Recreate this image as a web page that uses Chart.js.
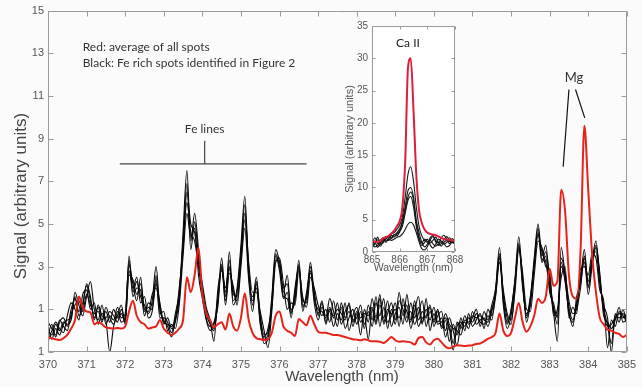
<!DOCTYPE html>
<html><head><meta charset="utf-8">
<script src="https://cdn.jsdelivr.net/npm/chart.js@4.4.0/dist/chart.umd.min.js"></script>
<style>
html,body{margin:0;padding:0;background:#fbfbfb;}
#wrap{position:relative;width:642px;height:387px;overflow:hidden;background:#fbfbfb;}
#main{position:absolute;left:0;top:0;}
#inset{position:absolute;left:340px;top:10px;}
</style></head><body>
<div id="wrap"><canvas id="main" width="642" height="387"></canvas><canvas id="inset" width="130" height="275"></canvas></div>
<script>
// ---------------- DATA (main plot) ----------------
const wavelengths = [
370.0,370.1,370.2,370.3,370.4,370.5,370.6,370.7,370.8,370.9,
371.0,371.1,371.2,371.3,371.4,371.5,371.6,371.7,371.8,371.9,
372.0,372.1,372.2,372.3,372.4,372.5,372.6,372.7,372.8,372.9,
373.0,373.1,373.2,373.3,373.4,373.5,373.6,373.7,373.8,373.9,
374.0,374.1,374.2,374.3,374.4,374.5,374.6,374.7,374.8,374.9,
375.0,375.1,375.2,375.3,375.4,375.5,375.6,375.7,375.8,375.9,
376.0,376.1,376.2,376.3,376.4,376.5,376.6,376.7,376.8,376.9,
377.0,377.1,377.2,377.3,377.4,377.5,377.6,377.7,377.8,377.9,
378.0,378.1,378.2,378.3,378.4,378.5,378.6,378.7,378.8,378.9,
379.0,379.1,379.2,379.3,379.4,379.5,379.6,379.7,379.8,379.9,
380.0,380.1,380.2,380.3,380.4,380.5,380.6,380.7,380.8,380.9,
381.0,381.1,381.2,381.3,381.4,381.5,381.6,381.7,381.8,381.9,
382.0,382.1,382.2,382.3,382.4,382.5,382.6,382.7,382.8,382.9,
383.0,383.1,383.2,383.3,383.4,383.5,383.6,383.7,383.8,383.9,
384.0,384.1,384.2,384.3,384.4,384.5,384.6,384.7,384.8,384.9,
385.0];

const redAverage = [
-0.3,-0.36,-0.4,-0.44,-0.35,-0.2,0.1,0.5,1.6,1.1,
0.9,0.85,0.3,0.4,0.3,0.15,0.12,0.1,0.12,0.1,
0.2,0.9,1.4,0.7,0.4,0.3,0.1,0.15,0.2,0.5,
0.1,-0.1,-0.2,-0.1,0.1,0.5,2.5,1.8,2.6,3.9,
1.7,0.8,0.5,0.15,0.3,0.4,0.05,0.8,0.2,0.0,
0.6,1.75,0.5,-0.1,-0.35,-0.4,-0.44,-0.4,-0.1,0.7,
0.9,0.2,0.0,-0.1,-0.25,0.55,0.4,0.25,0.7,0.3,
-0.05,-0.1,-0.1,-0.15,-0.2,-0.2,-0.25,-0.3,-0.35,-0.4,
-0.42,-0.45,-0.4,-0.45,-0.5,-0.5,-0.52,-0.58,-0.45,-0.3,
-0.45,-0.52,-0.5,-0.52,-0.55,-0.65,-0.35,-0.3,-0.55,-0.65,
-0.45,-0.38,-0.55,-0.75,-0.83,-0.75,-0.68,-0.7,-0.72,-0.7,
-0.68,-0.62,-0.6,-0.5,-0.38,-0.3,-0.1,0.8,0.0,-0.25,
-0.1,0.6,1.3,0.4,-0.05,0.2,0.7,1.5,1.3,1.6,
2.9,2.1,2.3,6.6,5.6,2.6,1.6,1.5,3.7,9.6,
6.6,3.6,1.8,0.6,0.3,0.05,0.0,-0.1,-0.15,-0.3,
-0.2];

const feSpot1 = [
-0.2,0.3,-0.3,0.4,0.6,0.2,1.0,1.5,0.9,1.3,
2.1,1.4,0.6,1.1,0.5,0.9,0.4,1.0,0.6,0.8,
0.4,3.5,1.8,2.3,1.6,1.2,0.8,1.4,3.0,1.0,
0.5,0.2,-0.3,0.6,1.6,4.6,7.5,4.2,5.5,3.8,
1.8,0.8,0.3,0.0,1.4,3.4,1.6,3.7,1.4,2.0,
4.0,6.3,2.8,1.4,2.5,0.6,-0.4,-0.2,1.6,3.8,
3.2,1.8,2.6,0.9,1.6,3.3,1.2,1.5,3.2,1.7,
0.8,1.4,0.4,1.1,0.6,1.3,0.3,0.9,1.2,0.2,
0.8,-0.2,1.0,0.4,1.5,0.6,1.7,0.3,0.8,1.3,
0.5,1.8,0.7,1.2,0.1,0.9,1.6,0.4,1.0,0.5,
1.1,0.4,0.6,-0.3,0.2,-0.6,0.4,0.1,0.7,0.3,
0.6,1.0,0.2,0.9,0.5,1.2,2.0,3.9,1.5,0.4,
0.9,2.4,4.4,2.3,0.6,1.5,3.4,5.0,3.5,4.0,
2.2,1.1,0.3,3.9,2.6,1.1,0.5,1.3,2.4,3.8,
2.0,3.3,4.2,2.4,1.0,0.3,-0.6,0.8,0.4,1.0,
0.3];

const feSpot2 = [
0.2,-0.4,0.1,-0.2,0.3,0.5,0.6,1.8,1.2,0.7,
1.6,2.3,1.0,0.5,1.2,0.3,0.7,0.5,1.1,0.6,
0.8,3.1,2.2,1.4,2.5,0.9,1.1,1.0,2.2,1.3,
0.3,0.6,0.1,0.4,2.0,3.8,6.5,5.0,4.6,3.2,
2.2,1.1,0.5,-0.5,1.9,2.8,2.0,3.0,1.7,1.6,
3.5,5.5,3.2,1.8,1.8,0.9,0.0,-0.8,0.9,3.2,
3.4,2.2,1.0,1.3,1.2,2.8,1.6,1.1,2.5,2.0,
1.2,0.7,1.0,0.4,1.4,0.5,1.1,0.1,0.6,1.0,
0.3,0.9,0.1,1.2,0.5,1.6,0.2,1.1,0.4,0.7,
1.3,0.2,1.5,0.6,0.9,0.3,0.8,1.4,0.2,0.9,
0.5,1.0,0.1,0.5,-0.5,0.3,-0.2,0.6,0.0,0.8,
0.2,0.5,0.8,0.1,1.0,0.7,1.6,3.2,1.9,0.8,
0.5,1.8,3.8,2.7,1.0,0.9,2.6,4.2,3.9,3.0,
2.8,0.7,1.0,2.5,3.0,0.6,1.1,0.8,2.9,3.0,
2.6,3.6,3.4,1.9,1.4,-0.8,0.5,0.2,0.9,0.6,
0.8];

const feSpot3 = [
-0.5,0.0,0.4,0.1,-0.1,0.7,1.3,1.0,0.5,1.7,
1.9,1.0,1.3,0.3,0.8,0.5,-1.0,0.2,0.7,1.2,
0.3,2.8,2.0,2.5,1.3,1.6,0.6,0.9,2.6,0.8,
0.9,0.0,0.3,0.1,1.2,3.5,5.5,4.4,4.8,2.6,
1.5,0.5,0.0,0.4,1.1,3.1,1.2,2.7,2.1,1.2,
3.0,4.8,2.4,0.9,2.2,0.3,-0.3,0.1,1.2,3.5,
2.8,1.5,1.8,0.6,2.0,3.0,0.9,1.8,2.8,1.3,
0.5,1.1,0.7,0.9,0.2,0.8,0.5,1.3,0.0,0.7,
1.1,0.4,0.7,-0.4,1.0,0.3,1.2,0.6,1.4,0.2,
0.8,1.1,0.3,1.7,0.5,1.2,0.2,0.6,0.7,1.2,
0.2,0.7,0.9,0.0,0.6,0.0,-0.7,0.3,0.4,0.1,
0.9,0.3,0.5,0.6,0.2,0.9,1.8,3.5,1.2,0.1,
0.7,2.2,4.1,2.0,0.8,1.2,3.0,4.6,3.2,3.5,
1.8,1.3,0.6,3.2,2.3,0.9,0.2,1.6,2.2,3.4,
1.7,3.0,3.9,2.7,0.7,0.4,0.1,0.5,1.1,0.4,
0.5];

const feSpot4 = [
0.4,0.1,-0.2,0.5,0.2,0.0,0.8,1.2,1.4,0.9,
1.7,1.2,0.8,0.9,0.4,1.1,0.6,0.3,0.9,0.4,
0.6,3.3,1.6,2.0,1.9,0.7,1.3,1.2,2.4,0.6,
0.6,0.4,-0.1,0.8,1.8,4.2,6.9,3.8,5.1,3.5,
2.0,0.6,0.2,0.3,1.6,2.9,1.8,3.3,1.2,1.8,
3.7,5.9,2.6,1.6,2.0,0.4,-0.6,-0.4,1.4,3.6,
3.0,2.0,2.2,1.0,1.4,3.1,1.4,1.3,3.0,1.5,
1.0,0.9,0.6,1.5,0.9,0.2,1.3,0.6,0.9,0.5,
0.6,1.2,0.3,0.9,0.2,1.3,0.7,1.5,0.1,1.0,
0.3,1.4,1.0,0.4,1.3,0.6,1.1,0.3,1.5,0.0,
0.8,0.3,0.4,0.6,0.1,-0.9,0.2,0.4,0.2,0.6,
0.4,0.8,0.4,0.3,0.7,0.5,1.9,3.6,1.7,0.6,
0.3,2.0,4.0,2.5,0.4,1.3,3.2,4.8,3.3,3.7,
2.5,0.9,-0.5,3.4,2.7,1.4,0.8,1.0,2.0,3.5,
2.3,3.4,3.7,2.2,1.2,0.6,-1.0,0.7,0.6,0.8,
0.6];

const feSpot5 = [
0.0,-0.2,0.3,0.0,0.4,0.3,0.5,1.6,0.7,1.1,
2.2,1.6,0.5,1.2,0.7,0.6,0.9,0.7,0.4,1.0,
0.5,2.6,2.4,1.7,2.2,1.0,0.9,1.7,2.0,1.2,
0.4,0.3,0.2,0.5,1.4,4.0,6.0,4.6,4.2,3.0,
1.7,0.9,0.4,0.1,1.3,3.0,1.4,2.9,1.9,1.4,
3.3,5.2,3.0,1.2,2.3,0.7,-0.2,-0.1,1.1,3.3,
3.3,1.6,1.5,0.8,1.8,2.9,1.1,1.6,2.7,1.8,
0.7,1.3,0.3,1.0,0.7,1.0,0.8,0.5,1.3,0.4,
0.9,0.6,0.8,0.7,1.1,0.4,1.5,0.4,1.0,0.8,
1.0,0.6,1.2,0.9,0.4,1.4,0.5,0.9,0.6,1.1,
0.4,0.9,0.2,0.8,0.3,0.1,0.0,-0.2,0.5,0.4,
0.7,0.6,0.7,0.5,0.4,1.0,1.7,3.4,1.4,0.3,
1.0,2.3,3.9,2.2,0.7,1.6,3.1,4.5,3.7,3.2,
2.0,1.0,0.7,3.0,2.4,0.8,0.4,1.2,2.6,3.2,
2.1,3.2,4.0,2.5,0.9,0.2,0.3,0.6,0.8,0.7,
0.4];

const mainYTicks = [-1,1,3,5,7,9,11,13,15];
const mainXTicks = [370,371,372,373,374,375,376,377,378,379,380,381,382,383,384,385];

// ---------------- DATA (inset, Ca II) ----------------
const insetWavelengths = [
865.0,865.1,865.2,865.3,865.4,865.5,865.6,865.7,865.8,865.9,
866.0,866.1,866.2,866.3,866.4,866.5,866.6,866.7,866.8,866.9,
867.0,867.1,867.2,867.3,867.4,867.5,867.6,867.7,867.8,867.9,
868.0];
const insetRed = [1.8,1.6,1.5,1.7,2.1,2.3,2.5,2.9,3.3,4.0,
4.8,7.0,14.0,28.5,30.0,22.0,12.0,6.5,4.5,3.5,
3.0,2.8,2.7,2.6,2.4,2.2,2.0,1.9,1.9,1.8,1.8];
const insetK1 = [2.0,1.2,2.3,1.5,1.8,2.4,2.2,2.8,3.0,3.5,4.2,5.5,8.5,12.0,13.2,11.0,7.0,4.0,2.5,1.8,1.5,1.9,2.4,1.8,1.4,2.2,2.6,2.0,1.6,2.1,1.7];
const insetK2 = [1.0,2.2,1.4,0.9,1.6,2.0,2.4,2.1,2.6,3.0,3.6,4.8,7.0,9.5,10.0,8.5,5.0,3.0,1.5,0.8,1.2,2.2,2.6,1.6,1.0,1.3,1.9,2.4,1.8,1.4,2.0];
const insetK3 = [1.6,0.8,1.0,1.8,2.2,1.7,2.0,2.6,2.3,2.8,3.3,4.5,6.5,8.5,9.3,8.0,4.5,2.3,1.0,1.5,2.0,1.1,0.6,1.2,2.0,1.7,1.2,1.5,2.2,1.6,1.3];
const insetK4 = [0.6,1.3,1.9,1.2,1.4,2.2,1.8,2.2,2.7,2.5,3.1,4.0,6.0,8.0,8.6,7.0,4.0,2.0,1.4,2.0,1.6,1.4,1.8,2.3,1.5,0.9,1.5,1.8,1.3,1.9,1.5];
const insetK5 = [1.3,1.7,0.7,1.3,2.0,1.5,2.0,1.8,2.0,2.3,2.4,2.8,3.5,4.3,4.6,4.2,3.0,1.6,0.5,0.3,0.8,1.8,1.3,0.9,1.2,1.6,1.3,0.8,1.0,1.5,1.2];
const insetYTicks = [0,5,10,15,20,25,30,35];
const insetXTicks = [865,866,867,868];

// ---------------- helpers ----------------
function pts(xs, ys){ return xs.map((x,i)=>({x:x, y:ys[i]})); }
const BLACK = '#0a0a0a';
const RED_MAIN = '#e5231b';
const RED_INSET = '#dc1f3c';
const AXIS = '#9a9a9a';
const TXT = '#555';
const SANS = '"Liberation Sans", Arial, sans-serif';
const HUM = 'Lato, "Open Sans", sans-serif';

function blackSet(ys, xs){ return {data: pts(xs, ys), borderColor: BLACK, borderWidth: 1.1, pointRadius: 0, cubicInterpolationMode:'monotone', order: 2}; }

function boxPlugin(xTicks, yTicks, tickLen){
  return {
    id: 'boxTicks',
    afterDatasetsDraw(chart){
      const {ctx, chartArea:a, scales} = chart;
      const x = scales.x, y = scales.y;
      ctx.save();
      ctx.strokeStyle = AXIS; ctx.lineWidth = 1;
      const L = Math.round(a.left)+0.5, R = Math.round(a.right)-0.5, T = Math.round(a.top)+0.5, B = Math.round(a.bottom)-0.5;
      ctx.beginPath();
      ctx.moveTo(L,T); ctx.lineTo(R,T); ctx.lineTo(R,B); ctx.lineTo(L,B); ctx.closePath();
      xTicks.forEach(v=>{ const px = Math.round(x.getPixelForValue(v))+0.5; ctx.moveTo(px,B); ctx.lineTo(px,B-tickLen); ctx.moveTo(px,T); ctx.lineTo(px,T+tickLen); });
      yTicks.forEach(v=>{ const py = Math.round(y.getPixelForValue(v))+0.5; ctx.moveTo(L,py); ctx.lineTo(L+tickLen,py); ctx.moveTo(R,py); ctx.lineTo(R-tickLen,py); });
      ctx.stroke();
      ctx.restore();
    }
  };
}

// ---------------- main chart ----------------
const mainAnno = {
  id: 'mainAnno',
  afterDatasetsDraw(chart){
    const {ctx, scales:{x,y}} = chart;
    const X = v=>x.getPixelForValue(v), Y = v=>y.getPixelForValue(v);
    ctx.save();
    ctx.fillStyle = '#333'; ctx.textBaseline = 'middle';
    ctx.font = '12px ' + HUM; ctx.textAlign = 'left';
    ctx.fillText('Red: average of all spots', X(370.9), Y(13.3));
    ctx.fillText('Black: Fe rich spots identified in Figure 2', X(370.9), Y(12.55));
    ctx.font = '12px ' + HUM; ctx.textAlign = 'center';
    ctx.fillText('Fe lines', X(374.06), Y(9.45));
    ctx.font = '13px ' + HUM;
    ctx.fillText('Mg', X(383.63), Y(11.87));
    ctx.strokeStyle = '#444'; ctx.lineWidth = 1.2;
    ctx.beginPath();
    ctx.moveTo(X(371.86), Y(7.82)); ctx.lineTo(X(376.70), Y(7.82));
    ctx.moveTo(X(374.06), Y(7.82)); ctx.lineTo(X(374.06), Y(8.9));
    ctx.stroke();
    ctx.strokeStyle = '#111'; ctx.lineWidth = 1.2;
    ctx.beginPath();
    ctx.moveTo(X(383.50), Y(11.30)); ctx.lineTo(X(383.35), Y(7.68));
    ctx.moveTo(X(383.67), Y(11.30)); ctx.lineTo(X(383.91), Y(9.97));
    ctx.stroke();
    // axis titles
    ctx.fillStyle = '#444';
    ctx.font = '15px ' + SANS; ctx.textAlign = 'center';
    ctx.fillText('Wavelength (nm)', 342, 377);
    ctx.translate(21, 196); ctx.rotate(-Math.PI/2);
    ctx.font = '17px ' + SANS;
    ctx.fillText('Signal (arbitrary units)', 0, 0);
    ctx.restore();
  }
};

new Chart(document.getElementById('main'), {
  type: 'line',
  data: { datasets: [
    {data: pts(wavelengths, redAverage), borderColor: RED_MAIN, borderWidth: 2, pointRadius: 0, cubicInterpolationMode:'monotone', order: 0},
    blackSet(feSpot1, wavelengths), blackSet(feSpot2, wavelengths), blackSet(feSpot3, wavelengths),
    blackSet(feSpot4, wavelengths), blackSet(feSpot5, wavelengths)
  ]},
  options: {
    responsive: false, animation: false, devicePixelRatio: 1,
    layout: { padding: {top: 9, right: 14, left: 0, bottom: 0} },
    plugins: { legend: {display: false}, tooltip: {enabled: false} },
    scales: {
      x: { type: 'linear', min: 370, max: 385,
        afterFit(s){ s.height = 35; },
        afterBuildTicks(s){ s.ticks = mainXTicks.map(v=>({value:v})); },
        grid: {display: false, drawTicks: false}, border: {display: false},
        ticks: {padding: 6, color: TXT, font: {family: SANS, size: 11}, maxRotation: 0, autoSkip: false}
      },
      y: { type: 'linear', min: -1, max: 15,
        afterFit(s){ s.width = 48; },
        afterBuildTicks(s){ s.ticks = mainYTicks.map(v=>({value:v})); },
        grid: {display: false, drawTicks: false}, border: {display: false},
        ticks: {padding: 4, color: TXT, font: {family: SANS, size: 11}, callback: v => String(Math.abs(v))}
      }
    }
  },
  plugins: [boxPlugin(mainXTicks, mainYTicks, 5), mainAnno]
});

// ---------------- inset chart ----------------
const insetAnno = {
  id: 'insetAnno',
  beforeDraw(chart){
    const {ctx, chartArea:a} = chart;
    ctx.save(); ctx.fillStyle = '#ffffff';
    ctx.fillRect(a.left, a.top, a.right-a.left, a.bottom-a.top);
    ctx.restore();
  },
  afterDatasetsDraw(chart){
    const {ctx, scales:{x,y}} = chart;
    ctx.save();
    ctx.fillStyle = '#222'; ctx.textAlign = 'center'; ctx.textBaseline = 'middle';
    ctx.font = '12px ' + HUM;
    ctx.fillText('Ca II', x.getPixelForValue(866.3), y.getPixelForValue(32.4));
    ctx.fillStyle = '#555';
    ctx.font = '10.5px ' + SANS;
    ctx.fillText('Wavelength (nm)', 73.5, 258);
    ctx.translate(10, 129); ctx.rotate(-Math.PI/2);
    ctx.font = '11px ' + SANS;
    ctx.fillText('Signal (arbitrary units)', 0, 0);
    ctx.restore();
  }
};
function insetBlack(ys){ return {data: pts(insetWavelengths, ys), borderColor: '#151515', borderWidth: 1.1, pointRadius: 0, cubicInterpolationMode:'monotone', order: 2}; }

new Chart(document.getElementById('inset'), {
  type: 'line',
  data: { datasets: [
    {data: pts(insetWavelengths, insetRed), borderColor: RED_INSET, borderWidth: 2, pointRadius: 0, cubicInterpolationMode:'monotone', order: 0},
    insetBlack(insetK1), insetBlack(insetK2), insetBlack(insetK3), insetBlack(insetK4), insetBlack(insetK5)
  ]},
  options: {
    responsive: false, animation: false, devicePixelRatio: 1,
    layout: { padding: {top: 16, right: 15, left: 0, bottom: 0} },
    plugins: { legend: {display: false}, tooltip: {enabled: false} },
    scales: {
      x: { type: 'linear', min: 865, max: 868,
        afterFit(s){ s.height = 33; },
        afterBuildTicks(s){ s.ticks = insetXTicks.map(v=>({value:v})); },
        grid: {display: false, drawTicks: false}, border: {display: false},
        ticks: {padding: 2, color: TXT, font: {family: SANS, size: 10}, maxRotation: 0, autoSkip: false}
      },
      y: { type: 'linear', min: 0, max: 35,
        afterFit(s){ s.width = 32; },
        afterBuildTicks(s){ s.ticks = insetYTicks.map(v=>({value:v})); },
        grid: {display: false, drawTicks: false}, border: {display: false},
        ticks: {padding: 4, color: TXT, font: {family: SANS, size: 10}}
      }
    }
  },
  plugins: [boxPlugin(insetXTicks, insetYTicks, 3), insetAnno]
});
</script>
</body></html>
